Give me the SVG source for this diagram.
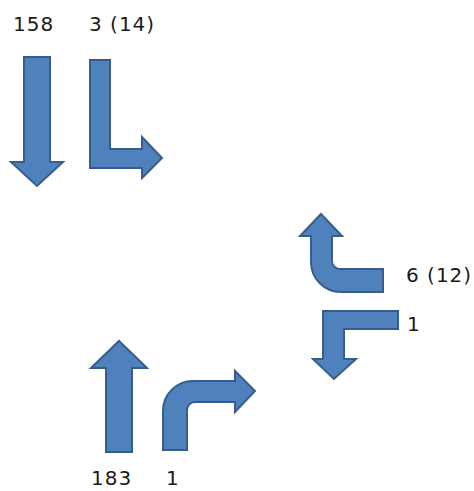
<svg xmlns="http://www.w3.org/2000/svg" width="474" height="491" viewBox="0 0 474 491">
  <style>
    .arrow { fill: #4F81BD; stroke: #385D8A; stroke-width: 2; stroke-linejoin: miter; }
    .lbl { font-family: "DejaVu Sans", Verdana, sans-serif; font-size: 20px; fill: #1a1a1a; letter-spacing: 1px; }
  </style>
  <rect width="474" height="491" fill="#ffffff"/>
  <g id="south-through">
    <polygon class="arrow" points="24,57 50,57 50,162 63,162 37,186 11,162 24,162"/>
    <text class="lbl" x="13" y="31">158</text>
  </g>
  <g id="south-left">
    <polygon class="arrow" points="90,60 110,60 110,149 142,149 142,137 162,158 142,178 142,168 90,168"/>
    <text class="lbl" x="89" y="31">3 (14)</text>
  </g>
  <g id="east-right">
    <path class="arrow" d="M383,269 L340,269 A8,8 0 0 1 332,261 L332,236 L342,236 L321,214 L300,236 L311,236 L311,262 A30,30 0 0 0 341,292 L383,292 Z"/>
    <text class="lbl" x="406" y="282">6 (12)</text>
  </g>
  <g id="east-left">
    <polygon class="arrow" points="398,311 398,329 344,329 344,359 356,359 334,379 313,359 323,359 323,311"/>
    <text class="lbl" x="407" y="331">1</text>
  </g>
  <g id="north-through">
    <polygon class="arrow" points="106,452 106,368 91,368 119,341 147,368 132,368 132,452"/>
    <text class="lbl" x="91" y="485">183</text>
  </g>
  <g id="north-right">
    <path class="arrow" d="M163,450 L163,411 A30,30 0 0 1 193,381 L235,381 L235,371 L255,391 L235,412 L235,402 L195,402 A8,8 0 0 0 187,410 L187,450 Z"/>
    <text class="lbl" x="166" y="485">1</text>
  </g>
  <g id="connectors"/>
</svg>
